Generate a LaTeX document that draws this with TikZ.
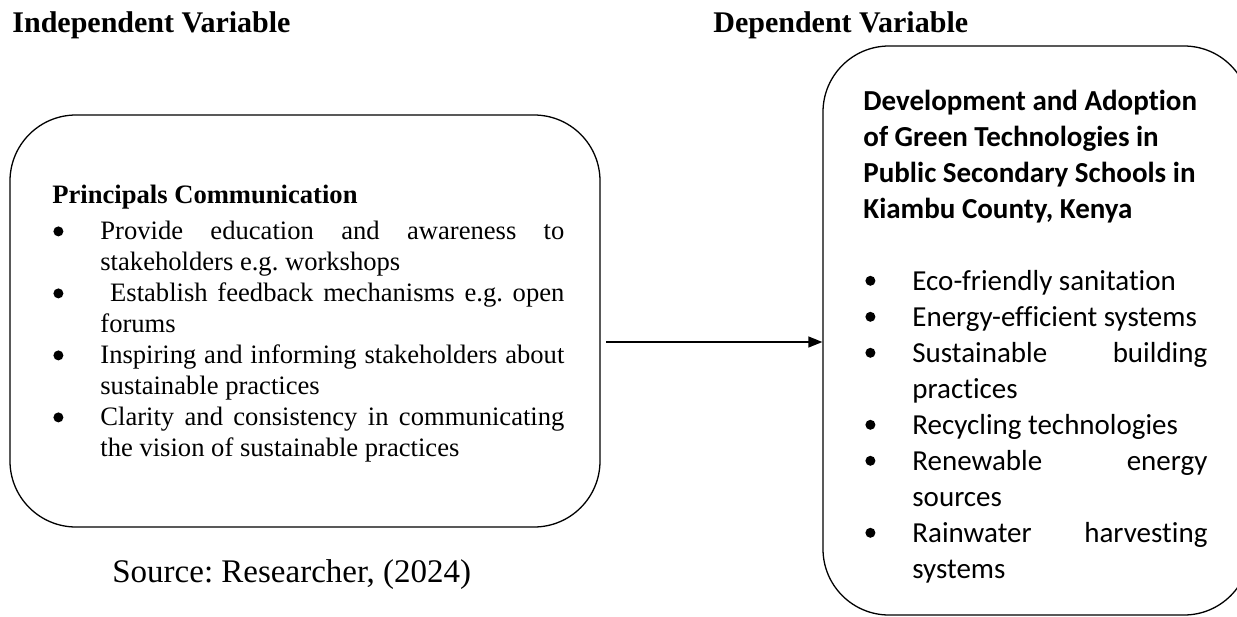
\documentclass[tikz,border=0pt]{standalone}
\usepackage{fontspec}
\setmainfont{Liberation Serif}
\newfontfamily\calfont[Ligatures={NoCommon,NoContextual}]{Carlito}
\usetikzlibrary{arrows.meta}
\frenchspacing
\newcommand\ldot{\tikz[baseline=-3.8pt]\fill (0,0) circle (2.5pt);}
\newcommand\rdot{\tikz[baseline=-4.6pt]\fill (0,0) circle (2.5pt);}
\newcommand\lbul[1]{\par\noindent\hangindent=24pt\hangafter=1\makebox[24pt][l]{\hspace{0.5pt}\ldot}#1}
\newcommand\rbul[1]{\par\noindent\hangindent=24.5pt\hangafter=1\makebox[24.5pt][l]{\hspace{1pt}\rdot}#1}
\begin{document}
\begin{tikzpicture}[x=0.5pt,y=-0.5pt,
  box/.style={draw, line width=0.65pt, rounded corners=33pt, inner sep=0pt},
  hdr/.style={anchor=base west, inner sep=0pt, font=\fontsize{15}{17}\selectfont\bfseries},
  ltext/.style={anchor=base west, inner sep=0pt, text width=256pt, align=justify, font=\fontsize{13.3}{15.5}\selectfont},
  rtext/.style={anchor=base west, inner sep=0pt, text width=172pt, align=justify, font=\calfont\fontsize{14.5}{18}\selectfont},
  src/.style={anchor=base west, inner sep=0pt, font=\fontsize{16.5}{19}\selectfont},
  link/.style={line width=0.65pt, -{Triangle[length=7pt,width=5.5pt]}}]
\clip (0,0) rectangle (1237,616);
\node[hdr] (h1) at (12,32) {Independent Variable};
\node[hdr] (h2) at (713,32) {Dependent Variable};
\node[box, minimum width=295pt, minimum height=206pt] (L) at (305,321) {};
\node[box, minimum width=213.5pt, minimum height=284.5pt] (R) at (1036.5,330.5) {};
\node[ltext] (lt) at (52,203) {\frenchspacing\hyphenpenalty=10000\exhyphenpenalty=10000
\textbf{Principals Communication}\par\vspace{2.5pt}
\lbul{Provide education and awareness to\linebreak stakeholders e.g. workshops}
\lbul{\ Establish feedback mechanisms e.g. open\linebreak forums}
\lbul{Inspiring and informing stakeholders about\linebreak sustainable practices}
\lbul{Clarity and consistency in communicating\linebreak the vision of sustainable practices}\par};
\node[rtext] (rt) at (863,110) {\hyphenpenalty=10000\exhyphenpenalty=10000
{\bfseries Development and Adoption\\of Green Technologies in\\Public Secondary Schools in\\Kiambu County, Kenya\par}
\vspace{18pt}
\rbul{Eco-friendly sanitation}
\rbul{Energy-efficient systems}
\rbul{Sustainable building\linebreak practices}
\rbul{Recycling technologies}
\rbul{Renewable energy\linebreak sources}
\rbul{Rainwater harvesting\linebreak systems}\par};
\node[src] (s) at (112,582) {\frenchspacing Source: Researcher, (2024)};
\coordinate (as) at (606,342);
\draw[link] (as) -- (as -| R.west);
\end{tikzpicture}
\end{document}
